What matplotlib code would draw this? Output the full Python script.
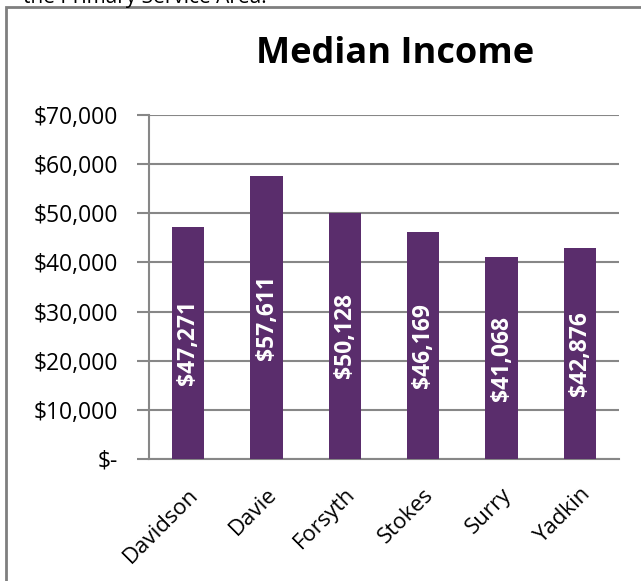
import matplotlib.pyplot as plt
from matplotlib.patches import Rectangle
from matplotlib.ticker import FuncFormatter

counties = ['Davidson', 'Davie', 'Forsyth', 'Stokes', 'Surry', 'Yadkin']
income = [47271, 57611, 50128, 46169, 41068, 42876]
yticks = [0, 10000, 20000, 30000, 40000, 50000, 60000, 70000]

plt.rcParams['font.family'] = ['Open Sans', 'DejaVu Sans']
purple = '#5A2D6C'
grid = '#878787'

fig = plt.figure(figsize=(6.41, 5.81), dpi=100)
ax = fig.add_axes([0.2325, 0.2100, 0.7332, 0.5921])

x = range(len(counties))
bars = ax.bar(x, income, width=0.41, color=purple, zorder=3)
for b, v in zip(bars, income):
    ax.text(b.get_x() + b.get_width() / 2, v / 2, '${:,}'.format(v),
            rotation=90, ha='center', va='center', color='white',
            fontsize=16.5, fontweight='bold', zorder=4)

ax.set_xlim(-0.5, len(counties) - 0.5)
ax.set_ylim(0, 70000)
ax.set_yticks(yticks)
ax.yaxis.set_major_formatter(FuncFormatter(
    lambda v, p: '$-' if v == 0 else '${:,.0f}'.format(v)))
ax.yaxis.grid(True, color=grid, linewidth=1.5, zorder=0)
ax.tick_params(axis='y', length=9, width=1.5, color=grid, pad=13.5, labelsize=16.5)
ax.set_xticks(list(x))
ax.set_xticklabels(counties, rotation=45, ha='right', va='top',
                   rotation_mode='anchor', fontsize=16)
ax.tick_params(axis='x', length=0, pad=18)
for s in ['top', 'right']:
    ax.spines[s].set_visible(False)
for s in ['left', 'bottom']:
    ax.spines[s].set_color(grid)
    ax.spines[s].set_linewidth(1.5)

fig.text(0.616, 0.907, 'Median Income', ha='center', va='center',
         fontsize=26, fontweight='bold')

# surrounding chart frame and cut-off caption above it
fig.patches.append(Rectangle((6 / 641, -0.1), 1.2, 1.1 - 7 / 581,
                             transform=fig.transFigure, fill=False,
                             edgecolor='#7f7f7f', linewidth=2))
fig.text(23 / 641, 1 - 3 / 581, 'the Primary Service Area.', ha='left',
         va='baseline', fontsize=15)

fig.savefig('out.png', dpi=100)
